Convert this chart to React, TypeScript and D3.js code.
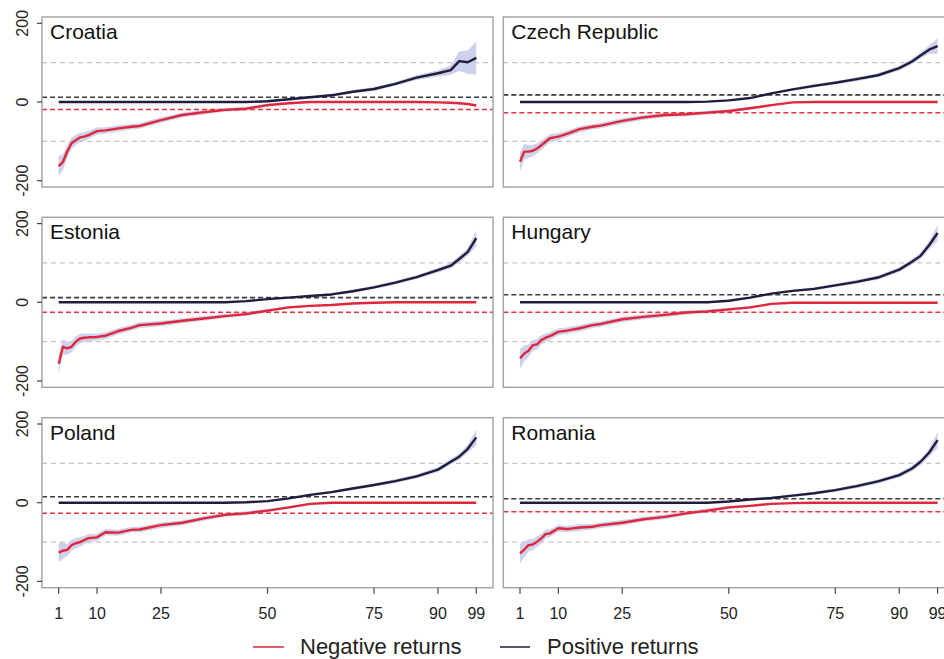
import React from "react";
import * as d3 from "d3";

const PCT = [1, 2, 3, 4, 5, 6, 7, 8, 10, 12, 15, 18, 20, 25, 30, 35, 40, 45, 50, 55, 60, 65, 70, 75, 80, 85, 90, 93, 95, 97, 99];
const X_TICKS = [1, 10, 25, 50, 75, 90, 99];
const Y_TICKS = [-200, 0, 200];
const GRID_LEVELS = [-100, 100];
const COUNTRIES = ["Croatia", "Czech Republic", "Estonia", "Hungary", "Poland", "Romania"];

// Negative returns (red)
const NEG_CROATIA = [-163, -152, -126, -105, -97, -90, -88, -84, -74, -72, -67, -63, -61, -46, -33, -26, -20, -17, -8, -3, 0, 0, 0, 0, 0, 0, -1, -2, -3, -5, -9];
const NEG_CZECH = [-152, -126, -126, -124, -118, -110, -101, -92, -88, -81, -69, -63, -60, -48, -39, -33, -31, -27, -23, -16, -8, -1, 0, 0, 0, 0, 0, 0, 0, 0, 0];
const NEG_ESTONIA = [-156, -113, -117, -113, -100, -92, -90, -89, -88, -85, -73, -65, -58, -54, -47, -41, -35, -30, -21, -13, -9, -7, -3, -1, 0, 0, 0, 0, 0, 0, 0];
const NEG_HUNGARY = [-143, -130, -123, -109, -107, -96, -90, -86, -75, -72, -66, -58, -55, -43, -37, -32, -26, -23, -18, -13, -4, -1, -1, -1, -1, -1, -1, -1, -1, -1, -1];
const NEG_POLAND = [-127, -122, -120, -108, -103, -100, -95, -90, -88, -75, -76, -69, -68, -57, -51, -40, -31, -27, -20, -12, -3, 0, 0, 0, 0, 0, 0, 0, 0, 0, 0];
const NEG_ROMANIA = [-129, -119, -108, -106, -99, -91, -80, -78, -65, -67, -63, -61, -57, -51, -42, -36, -27, -20, -12, -8, -3, -1, 0, 0, 0, 0, 0, 0, 0, 0, 0];

// Positive returns (dark)
const POS_CROATIA = [0, 0, 0, 0, 0, 0, 0, 0, 0, 0, 0, 0, 0, 0, 0, 0, 0, 0, 2, 7, 12, 17, 26, 33, 46, 62, 73, 81, 104, 101, 112];
const POS_CZECH = [0, 0, 0, 0, 0, 0, 0, 0, 0, 0, 0, 0, 0, 0, 0, 0, 0, 1, 4, 10, 22, 32, 41, 49, 58, 68, 86, 103, 118, 133, 142];
const POS_ESTONIA = [0, 0, 0, 0, 0, 0, 0, 0, 0, 0, 0, 0, 0, 0, 0, 0, 0, 3, 8, 12, 16, 20, 28, 38, 50, 64, 82, 93, 110, 128, 163];
const POS_HUNGARY = [0, 0, 0, 0, 0, 0, 0, 0, 0, 0, 0, 0, 0, 0, 0, 0, 0, 0, 4, 12, 22, 29, 34, 43, 52, 63, 83, 103, 118, 145, 176];
const POS_POLAND = [0, 0, 0, 0, 0, 0, 0, 0, 0, 0, 0, 0, 0, 0, 0, 0, 0, 1, 4, 11, 20, 27, 36, 45, 55, 67, 84, 104, 117, 137, 166];
const POS_ROMANIA = [0, 0, 0, 0, 0, 0, 0, 0, 0, 0, 0, 0, 0, 0, 0, 0, 0, 0, 3, 8, 12, 18, 24, 32, 42, 54, 70, 87, 104, 127, 159];

// Confidence band half-widths
const NEG_BAND = [25, 20, 16, 14, 13, 12, 11, 10, 9, 8, 8, 7, 7, 7, 6, 6, 5, 5, 4, 3, 2, 1, 1, 1, 1, 1, 1, 1, 1, 1, 1];
const POS_BAND_CROATIA = [1, 1, 1, 1, 1, 1, 1, 1, 1, 1, 1, 1, 1, 1, 1, 1, 1, 1, 2, 3, 3, 4, 4, 5, 5, 6, 8, 12, 25, 30, 42];
const POS_BAND = [1, 1, 1, 1, 1, 1, 1, 1, 1, 1, 1, 1, 1, 1, 1, 1, 1, 1, 2, 2, 3, 3, 4, 4, 5, 5, 6, 7, 8, 10, 20];

// Reference levels
const POS_MEAN = [12, 18, 12, 19, 15, 10];
const NEG_MEAN = [-19, -27, -25, -25, -27, -23];

const NEG_SERIES = [NEG_CROATIA, NEG_CZECH, NEG_ESTONIA, NEG_HUNGARY, NEG_POLAND, NEG_ROMANIA];
const POS_SERIES = [POS_CROATIA, POS_CZECH, POS_ESTONIA, POS_HUNGARY, POS_POLAND, POS_ROMANIA];
const POS_BANDS = [POS_BAND_CROATIA, POS_BAND, POS_BAND, POS_BAND, POS_BAND, POS_BAND];

const W = 944;
const H = 659;
const COL_LEFT = [42, 503.3];
const PANEL_W = 451;
const ROW_TOP = [17, 217.3, 417.7];
const PANEL_H = 170;
const FONT = "'Liberation Sans', Arial, Helvetica, sans-serif";

const RED = "#e0263a";
const DARK = "#1e1e3c";
const BAND = "#c6c9e8";

function Panel({ idx }: { idx: number }) {
  const col = idx % 2;
  const row = Math.floor(idx / 2);
  const left = COL_LEFT[col];
  const top = ROW_TOP[row];
  const pad = 98 * 0.04;
  const x = d3.scaleLinear().domain([1 - pad, 99 + pad]).range([left, left + PANEL_W]);
  const y = d3.scaleLinear().domain([-216, 216]).range([top + PANEL_H, top]);
  const neg = NEG_SERIES[idx];
  const pos = POS_SERIES[idx];
  const pb = POS_BANDS[idx];
  const line = d3.line<number>().x((_, i) => x(PCT[i])).y((d) => y(d));
  const areaNeg = d3
    .area<number>()
    .x((_, i) => x(PCT[i]))
    .y0((d, i) => y(d - NEG_BAND[i]))
    .y1((d, i) => y(d + NEG_BAND[i]));
  const areaPos = d3
    .area<number>()
    .x((_, i) => x(PCT[i]))
    .y0((d, i) => y(d - pb[i]))
    .y1((d, i) => y(d + pb[i]));
  const x0 = left;
  const x1 = left + PANEL_W;
  return (
    <g>
      {GRID_LEVELS.map((g) => (
        <line key={g} x1={x0} x2={x1} y1={y(g)} y2={y(g)} stroke="#c4c4c4" strokeWidth={1.2} strokeDasharray="5,4" />
      ))}
      <path d={areaNeg(neg) || ""} fill={BAND} opacity={0.85} />
      <path d={areaPos(pos) || ""} fill={BAND} opacity={0.85} />
      <line x1={x0} x2={x1} y1={y(POS_MEAN[idx])} y2={y(POS_MEAN[idx])} stroke="#3a3a3a" strokeWidth={1.6} strokeDasharray="5,3" />
      <line x1={x0} x2={x1} y1={y(NEG_MEAN[idx])} y2={y(NEG_MEAN[idx])} stroke="#e8323f" strokeWidth={1.5} strokeDasharray="5,3" />
      <path d={line(pos) || ""} fill="none" stroke={DARK} strokeWidth={2.4} strokeLinejoin="round" />
      <path d={line(neg) || ""} fill="none" stroke={RED} strokeWidth={2.4} strokeLinejoin="round" />
      <rect x={x0} y={top} width={PANEL_W} height={PANEL_H} fill="none" stroke="#a6a6a6" strokeWidth={1.5} />
      <text x={x0 + 8} y={top + 22} fontFamily={FONT} fontSize={21} fill="#111">
        {COUNTRIES[idx]}
      </text>
      {col === 0 &&
        Y_TICKS.map((t) => (
          <g key={t}>
            <line x1={x0 - 5} x2={x0} y1={y(t)} y2={y(t)} stroke="#444" strokeWidth={1.2} />
            <text
              transform={`translate(${x0 - 14},${y(t)}) rotate(-90)`}
              textAnchor="middle"
              fontFamily={FONT}
              fontSize={16}
              fill="#222"
            >
              {t}
            </text>
          </g>
        ))}
      {row === 2 &&
        X_TICKS.map((t) => (
          <g key={t}>
            <line x1={x(t)} x2={x(t)} y1={top + PANEL_H} y2={top + PANEL_H + 6} stroke="#444" strokeWidth={1.2} />
            <text x={x(t)} y={top + PANEL_H + 31} textAnchor="middle" fontFamily={FONT} fontSize={16} fill="#222">
              {t}
            </text>
          </g>
        ))}
    </g>
  );
}

export default function App() {
  return (
    <svg
      width={W}
      height={H}
      viewBox={`0 0 ${W} ${H}`}
      style={{ position: "absolute", left: 0, top: 0, background: "#fff" }}
    >
      <rect x={0} y={0} width={W} height={H} fill="#fff" />
      {COUNTRIES.map((_, i) => (
        <Panel key={i} idx={i} />
      ))}
      <g fontFamily={FONT} fontSize={22} fill="#222">
        <line x1={253} x2={284} y1={647} y2={647} stroke={RED} strokeWidth={1.5} />
        <text x={300} y={654}>Negative returns</text>
        <line x1={500} x2={530} y1={647} y2={647} stroke={DARK} strokeWidth={1.5} />
        <text x={547} y={654}>Positive returns</text>
      </g>
    </svg>
  );
}
